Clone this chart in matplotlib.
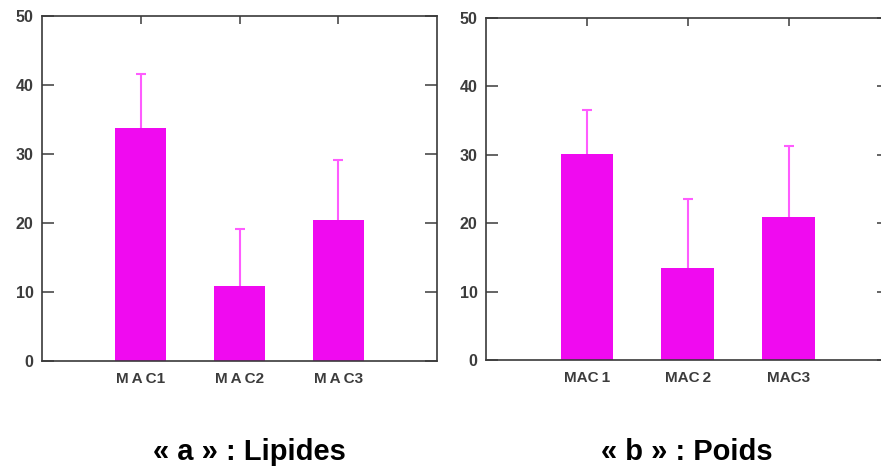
import matplotlib
matplotlib.use("Agg")
import matplotlib.pyplot as plt
import numpy as np

# data
groups_a = ["M\u2009A\u2009C1", "M\u2009A\u2009C2", "M\u2009A\u2009C3"]
lipides = [33.7, 10.9, 20.4]
lipides_err = [7.9, 8.3, 8.7]

groups_b = ["MAC\u20091", "MAC\u20092", "MAC3"]
poids = [30.1, 13.4, 20.9]
poids_err = [6.5, 10.2, 10.4]

bar_color = "#f00af0"
err_color = "#ff5cff"
spine_color = "#3a3a3a"

plt.rcParams["font.family"] = ["Liberation Sans", "DejaVu Sans"]


def panel(ax, labels, values, errs):
    x = np.arange(1, len(values) + 1)
    ax.bar(x, values, width=0.52, color=bar_color, zorder=2)
    eb = ax.errorbar(x, values, yerr=[np.zeros(len(errs)), errs], fmt="none",
                     ecolor=err_color, elinewidth=1.5, capsize=3.4,
                     capthick=1.5, zorder=3)
    # only keep the upper caps
    caps = eb[1]
    if len(caps) > 1:
        caps[0].set_visible(False)

    ax.set_xlim(0, 4)
    ax.set_ylim(0, 50)
    ax.set_yticks([0, 10, 20, 30, 40, 50])
    ax.set_xticks(x)
    ax.set_xticklabels(labels)
    for sp in ax.spines.values():
        sp.set_color(spine_color)
        sp.set_linewidth(1.2)

    ax.tick_params(axis="y", which="both", direction="in", length=8.5,
                   width=1.1, color=spine_color, right=True, pad=6,
                   labelsize=11.5, labelcolor="#3c3c3c")
    ax.tick_params(axis="x", which="both", direction="in", length=6,
                   width=1.1, color=spine_color, bottom=False, top=True,
                   pad=8, labelsize=11, labelcolor="#3c3c3c")
    for t in ax.get_yticklabels() + ax.get_xticklabels():
        t.set_fontweight("bold")


fig = plt.figure(figsize=(8.81, 4.70), dpi=100)
ax1 = fig.add_axes([0.0477, 0.2319, 0.4484, 0.734])
ax2 = fig.add_axes([0.5516, 0.234, 0.458, 0.7277])

panel(ax1, groups_a, lipides, lipides_err)
panel(ax2, groups_b, poids, poids_err)

fig.text(0.283, 0.038, "« a » : Lipides", ha="center", va="center",
         fontsize=21, fontweight="bold", color="black")
fig.text(0.78, 0.038, "« b » : Poids", ha="center", va="center",
         fontsize=21, fontweight="bold", color="black")

fig.savefig("out.png", dpi=100)
